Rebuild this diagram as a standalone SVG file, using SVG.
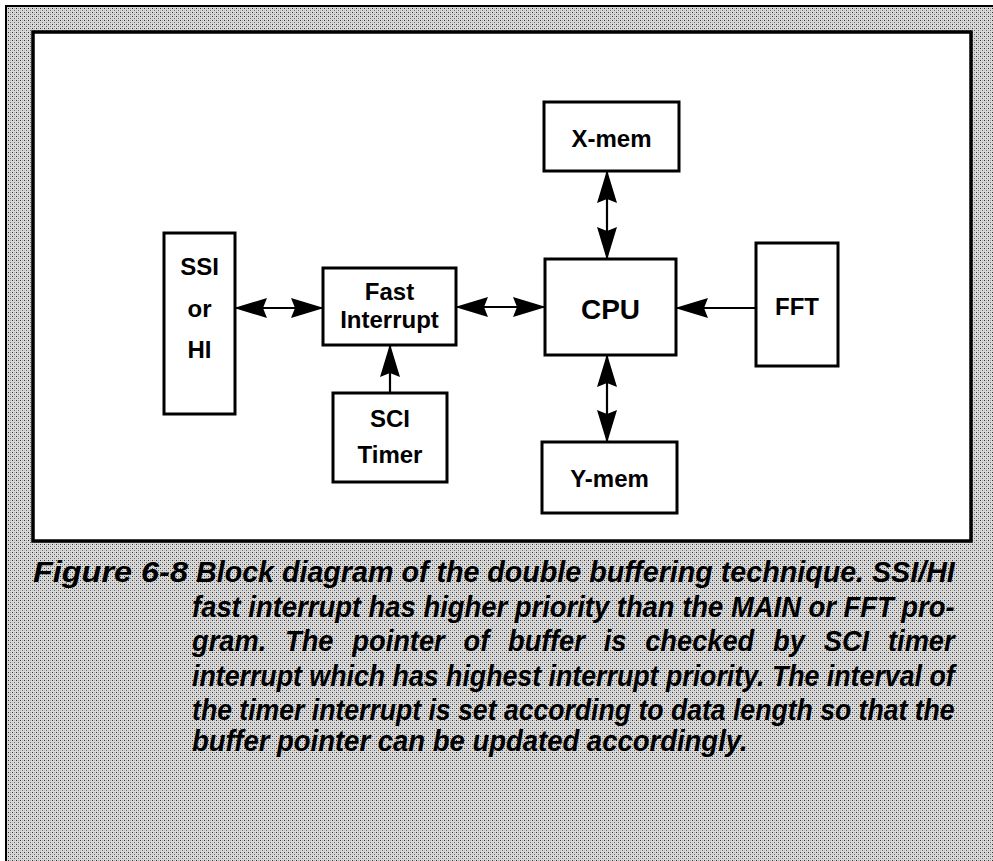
<svg xmlns="http://www.w3.org/2000/svg" width="993" height="861" viewBox="0 0 993 861">
<defs>
<pattern id="ht" width="4" height="4" patternUnits="userSpaceOnUse">
<rect width="4" height="4" fill="#d9d9d9"/>
<rect x="0" y="0" width="1" height="1" fill="#333"/>
<rect x="2" y="2" width="1" height="1" fill="#666"/>
<rect x="2" y="0" width="1" height="1" fill="#aaa"/>
<rect x="0" y="2" width="1" height="1" fill="#bbb"/>
</pattern>
<marker id="ah" viewBox="0 0 33 20" refX="32" refY="10" markerWidth="33" markerHeight="20" markerUnits="userSpaceOnUse" orient="auto-start-reverse">
<path d="M0,0 L33,10 L0,20 L4,10 Z" fill="#000"/>
</marker>
</defs>
<style>
.box{fill:#fff;stroke:#000;stroke-width:3}
.lbl{font-family:"Liberation Sans",Arial,sans-serif;font-weight:bold;font-size:24px;text-anchor:middle;fill:#000}
.big{font-size:28px}
.con{stroke:#000;stroke-width:2.2;fill:none}
.cap{font-family:"Liberation Sans",Arial,sans-serif;font-weight:bold;font-style:italic;font-size:29px;fill:#000}
</style>
<rect x="0" y="0" width="993" height="861" fill="#fff"/>
<rect x="6" y="6" width="995" height="870" fill="url(#ht)" stroke="#000" stroke-width="2"/>
<rect id="panel" x="33" y="32" width="938" height="509" fill="#fff" stroke="#000" stroke-width="3.5"/>

<g id="connectors">
<line class="con" x1="235" y1="308" x2="323" y2="308" marker-start="url(#ah)" marker-end="url(#ah)"/>
<line class="con" x1="456" y1="307" x2="545" y2="307" marker-start="url(#ah)" marker-end="url(#ah)"/>
<line class="con" x1="390" y1="393" x2="390" y2="345" marker-end="url(#ah)"/>
<line class="con" x1="607" y1="171" x2="607" y2="259" marker-start="url(#ah)" marker-end="url(#ah)"/>
<line class="con" x1="607" y1="355" x2="607" y2="442" marker-start="url(#ah)" marker-end="url(#ah)"/>
<line class="con" x1="756" y1="308" x2="676" y2="308" marker-end="url(#ah)"/>
</g>

<g id="ssi">
<rect class="box" x="164" y="233" width="71" height="181"/>
<text class="lbl" x="199.5" y="275">SSI</text>
<text class="lbl" x="199.5" y="317">or</text>
<text class="lbl" x="199.5" y="358">HI</text>
</g>
<g id="fast">
<rect class="box" x="323" y="268" width="133" height="77"/>
<text class="lbl" x="389.5" y="300">Fast</text>
<text class="lbl" x="389.5" y="328">Interrupt</text>
</g>
<g id="sci">
<rect class="box" x="333" y="393" width="114" height="89"/>
<text class="lbl" x="390" y="427">SCI</text>
<text class="lbl" x="390" y="463">Timer</text>
</g>
<g id="cpu">
<rect class="box" x="545" y="259" width="131" height="96"/>
<text class="lbl big" x="610.5" y="319">CPU</text>
</g>
<g id="xmem">
<rect class="box" x="544" y="102" width="135" height="69"/>
<text class="lbl" x="611.5" y="147">X-mem</text>
</g>
<g id="ymem">
<rect class="box" x="542" y="442" width="135" height="71"/>
<text class="lbl" x="609.5" y="487">Y-mem</text>
</g>
<g id="fft">
<rect class="box" x="756" y="243" width="82" height="123"/>
<text class="lbl" x="797" y="315">FFT</text>
</g>

<g id="caption" transform="scale(0.945,1)">
<text class="cap" x="34.9" y="582" textLength="164" lengthAdjust="spacingAndGlyphs">Figure 6-8</text>
<text class="cap" x="207.4" y="582" textLength="803" lengthAdjust="spacingAndGlyphs">Block diagram of the double buffering technique. SSI/HI</text>
<text class="cap" x="203.2" y="617" textLength="807" lengthAdjust="spacingAndGlyphs">fast interrupt has higher priority than the MAIN or FFT pro-</text>
<text class="cap" x="203.2" y="651" textLength="807" lengthAdjust="spacingAndGlyphs" word-spacing="12">gram. The pointer of buffer is checked by SCI timer</text>
<text class="cap" x="203.2" y="686" textLength="807" lengthAdjust="spacingAndGlyphs">interrupt which has highest interrupt priority. The interval of</text>
<text class="cap" x="203.2" y="720" textLength="807" lengthAdjust="spacingAndGlyphs">the timer interrupt is set according to data length so that the</text>
<text class="cap" x="203.2" y="751" textLength="588" lengthAdjust="spacingAndGlyphs">buffer pointer can be updated accordingly.</text>
</g>
</svg>
